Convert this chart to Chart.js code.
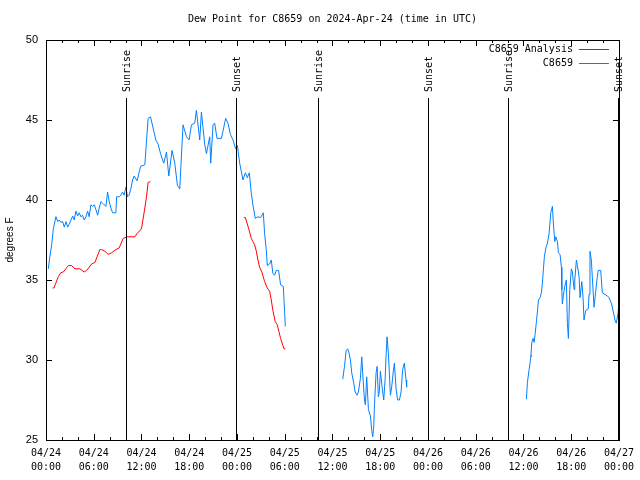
<!DOCTYPE html>
<html>
<head>
<meta charset="utf-8">
<script src="https://cdn.jsdelivr.net/npm/chart.js@4.4.1/dist/chart.umd.min.js"></script>
<style>
html,body{margin:0;padding:0;background:#fff;}
#caja{width:640px;height:480px;}
</style>
</head>
<body>
<div id="caja"><canvas id="grafico" width="640" height="480"></canvas></div>
<script>
// DATOS: horas desde 2024-04-24 00:00 UTC, null = hueco en el registro
const obsHours = [0.29,0.50,0.71,0.92,1.25,1.47,1.67,1.88,2.09,2.30,2.51,2.72,2.92,3.14,3.35,3.55,3.76,3.98,4.18,4.39,4.60,4.80,5.02,5.23,5.43,5.64,5.86,6.06,6.27,6.49,6.69,6.90,7.11,7.31,7.53,7.74,7.94,8.15,8.37,8.78,8.87,9.19,9.41,9.62,9.82,10.04,10.25,10.45,10.66,10.88,11.08,11.45,11.88,12.42,12.83,13.13,13.46,13.80,14.09,14.39,14.80,15.14,15.43,15.84,16.18,16.52,16.81,17.22,17.65,17.98,18.28,18.69,18.90,19.32,19.53,19.94,20.16,20.57,20.70,20.99,21.20,21.49,22.04,22.24,22.58,22.87,23.17,23.50,23.83,24.05,24.34,24.75,25.05,25.30,25.55,25.80,26.00,26.30,26.63,26.97,27.31,27.47,27.68,27.81,28.10,28.31,28.51,28.73,28.94,29.23,29.48,29.82,29.98,30.07,
  33,
  37.29,37.51,37.72,37.92,38.05,38.26,38.42,38.67,38.85,39.10,39.26,39.51,39.68,39.85,40.02,40.14,40.30,40.52,40.77,40.93,41.06,41.18,41.27,41.48,41.61,41.77,41.90,42.02,42.24,42.44,42.61,42.74,42.86,43.03,43.28,43.44,43.62,43.78,43.99,44.19,44.41,44.62,44.82,45.03,45.25,45.32,
  52,
  60.37,60.50,60.71,60.93,61.05,61.21,61.34,61.46,61.63,61.75,61.88,62.09,62.25,62.38,62.51,62.63,62.81,63.01,63.22,63.43,63.64,63.76,63.94,64.06,64.27,64.39,64.60,64.77,64.82,64.89,65.02,65.19,65.39,65.52,65.65,65.82,66.02,66.15,66.36,66.45,66.65,66.78,66.99,67.11,67.33,67.49,67.61,67.83,68.15,68.24,68.36,68.53,68.65,68.87,69.08,69.28,69.40,69.71,69.91,70.25,70.53,70.75,71.08,71.29,71.50,71.66,71.88,72.0];
const obsDewpt = [35.7,36.5,37.2,38.2,38.96,38.65,38.75,38.6,38.65,38.3,38.65,38.3,38.5,38.75,39.0,38.75,39.3,39.0,39.2,38.95,39.05,38.75,38.95,39.3,38.95,39.7,39.6,39.7,39.4,39.05,39.5,39.9,39.8,39.7,39.6,40.5,39.9,39.5,39.2,39.2,40.2,40.2,40.3,40.5,40.3,40.8,40.2,40.3,40.7,41.25,41.5,41.2,42.1,42.2,45.1,45.2,44.5,43.75,43.5,42.9,42.3,43.0,41.5,43.1,42.3,40.9,40.7,44.7,43.95,43.75,44.7,44.8,45.6,43.75,45.5,43.5,42.9,43.95,42.3,44.7,44.8,43.85,43.85,44.3,45.1,44.8,44.1,43.75,43.2,43.4,42.3,41.25,41.7,41.4,41.7,40.4,39.7,38.85,38.95,38.9,39.2,37.9,36.9,35.9,36.0,36.25,35.4,35.3,35.6,35.6,34.7,34.6,33.1,32.1,
  null,
  28.8,29.6,30.6,30.7,30.5,30.0,29.2,28.55,28.0,27.8,28.0,28.85,30.2,28.75,27.5,27.2,28.95,26.9,26.5,25.6,25.2,25.8,27.1,29.2,29.6,27.7,28.1,29.3,28.3,27.5,28.75,30.3,31.45,30.4,27.8,28.3,29.2,29.8,28.2,27.5,27.5,28.0,29.4,29.8,28.75,28.3,
  null,
  27.55,28.6,29.4,30.2,31.1,31.35,31.1,31.6,32.4,33.0,33.75,33.9,34.2,34.8,35.7,36.45,37.0,37.3,37.9,39.2,39.6,38.5,37.4,37.7,37.4,36.7,36.6,35.8,34.4,33.5,34.05,34.6,35.0,32.3,31.35,34.4,35.7,35.5,34.4,35.0,36.25,35.9,35.2,33.9,34.9,33.9,32.5,33.1,33.2,34.1,36.8,36.25,35.2,33.3,34.3,35.2,35.6,35.6,34.2,34.1,34.0,33.9,33.5,33.0,32.5,32.3,32.9,33.5];

const anaHours = [0.84,1.00,1.54,1.84,2.17,2.80,3.22,3.64,4.26,4.80,5.11,5.73,6.15,6.77,6.99,7.40,7.81,8.24,8.78,9.19,9.70,10.20,11.16,11.45,12.00,12.42,12.63,12.83,13.13,
  18,
  24.87,25.05,25.30,25.59,25.80,26.00,26.22,26.43,26.63,26.84,27.13,27.47,27.81,28.10,28.31,28.51,28.81,29.06,29.26,29.48,29.77,29.90,30.07,
  45,
  60.93,61.05];
const anaDewpt = [34.5,34.5,35.2,35.45,35.5,35.9,35.9,35.7,35.7,35.5,35.6,36.0,36.1,36.9,36.9,36.8,36.6,36.7,36.9,37.0,37.6,37.7,37.7,37.9,38.2,39.5,40.2,41.1,41.15,
  null,
  38.9,38.9,38.5,38.0,37.6,37.4,37.2,36.8,36.25,35.8,35.5,34.9,34.5,34.3,33.75,33.1,32.4,32.2,31.8,31.35,30.9,30.7,30.7,
  null,
  30.2,30.3];

const sunHours = [10.1, 23.9, 34.15, 47.95, 58.1, 71.9];
const sunLabels = ['Sunrise','Sunset','Sunrise','Sunset','Sunrise','Sunset'];

const xTickHours = [0,6,12,18,24,30,36,42,48,54,60,66,72];
const xTickDates = ['04/24','04/24','04/24','04/24','04/25','04/25','04/25','04/25','04/26','04/26','04/26','04/26','04/27'];
const xTickTimes = ['00:00','06:00','12:00','18:00','00:00','06:00','12:00','18:00','00:00','06:00','12:00','18:00','00:00'];
const yTicks = [25,30,35,40,45,50];

const titulo = 'Dew Point for C8659 on 2024-Apr-24 (time in UTC)';
const nombres = ['C8659 Analysis','C8659'];
const colores = ['#ff0000','#0080ff'];

const MONO = '"DejaVu Sans Mono", monospace';

// marco, ticks hacia adentro, salida/puesta del sol, titulo y leyenda
const marcoPlugin = {
    id: 'marco',
    afterDraw(chart){
        const ctx = chart.ctx, a = chart.chartArea;
        const sx = chart.scales.x, sy = chart.scales.y;
        ctx.save();
        ctx.strokeStyle = '#000';
        ctx.lineWidth = 1;

        ctx.beginPath();
        for(let h = 0; h <= 72; h += 2){
            const px = Math.round(sx.getPixelForValue(h)) + 0.5;
            const len = h % 6 === 0 ? 6 : 3;
            ctx.moveTo(px, a.bottom); ctx.lineTo(px, a.bottom - len);
            ctx.moveTo(px, a.top); ctx.lineTo(px, a.top + len);
        }
        yTicks.forEach(v => {
            const py = Math.round(sy.getPixelForValue(v)) + 0.5;
            ctx.moveTo(a.left, py); ctx.lineTo(a.left + 6, py);
            ctx.moveTo(a.right, py); ctx.lineTo(a.right - 6, py);
        });
        ctx.stroke();

        ctx.font = '10px ' + MONO;
        ctx.fillStyle = '#000';
        sunHours.forEach((h, i) => {
            const px = Math.round(sx.getPixelForValue(h)) + 0.5;
            ctx.beginPath();
            ctx.moveTo(px, a.top + 58);
            ctx.lineTo(px, a.bottom);
            ctx.stroke();
            ctx.save();
            ctx.translate(px + 1, a.top + 52);
            ctx.rotate(-Math.PI / 2);
            ctx.textAlign = 'left';
            ctx.textBaseline = 'middle';
            ctx.fillText(sunLabels[i], 0, 0);
            ctx.restore();
        });

        ctx.strokeRect(Math.round(a.left) + 0.5, Math.round(a.top) + 0.5,
            Math.round(a.right - a.left), Math.round(a.bottom - a.top));

        // titulo
        ctx.textAlign = 'center';
        ctx.textBaseline = 'middle';
        ctx.fillText(titulo, (a.left + a.right) / 2, 19);

        // leyenda
        ctx.textAlign = 'right';
        nombres.forEach((n, i) => {
            const yy = a.top + 9 + i * 14;
            ctx.fillStyle = '#000';
            ctx.fillText(n, a.right - 46, yy);
            ctx.fillStyle = colores[i];
            ctx.fillRect(a.right - 40, Math.round(yy), 30, 1);
        });
        ctx.restore();
    }
};

const canvas = document.querySelector('#grafico');
const grafico = new Chart(canvas, {
    type: 'line',
    data: {
        datasets: [
            {
                label: nombres[0],
                data: anaHours.map((h, i) => ({x: h, y: anaDewpt[i]})),
                borderColor: colores[0],
                borderWidth: 1,
                pointRadius: 0,
                spanGaps: false,
                tension: 0
            },
            {
                label: nombres[1],
                data: obsHours.map((h, i) => ({x: h, y: obsDewpt[i]})),
                borderColor: colores[1],
                borderWidth: 1,
                pointRadius: 0,
                spanGaps: false,
                tension: 0
            }
        ]
    },
    options: {
        responsive: false,
        animation: false,
        layout: { padding: { top: 40, right: 20, left: 0, bottom: 0 } },
        plugins: {
            legend: { display: false },
            title: { display: false },
            tooltip: { enabled: false }
        },
        scales: {
            x: {
                type: 'linear',
                min: 0,
                max: 72,
                afterBuildTicks: s => { s.ticks = xTickHours.map(v => ({value: v})); },
                afterFit: s => { s.height = 40; },
                grid: { display: false, drawTicks: false },
                border: { display: false },
                ticks: {
                    autoSkip: false,
                    maxRotation: 0,
                    padding: 6,
                    color: '#000',
                    font: { family: MONO, size: 10, lineHeight: 1.4 },
                    callback: (v, i) => [xTickDates[i], xTickTimes[i]]
                }
            },
            y: {
                min: 25,
                max: 50,
                afterBuildTicks: s => { s.ticks = yTicks.map(v => ({value: v})); },
                afterFit: s => { s.width = 46; },
                grid: { display: false, drawTicks: false },
                border: { display: false },
                ticks: {
                    padding: 8,
                    color: '#000',
                    font: { family: '"Liberation Sans", Arial, sans-serif', size: 11 }
                },
                title: {
                    display: true,
                    text: 'degrees F',
                    color: '#000',
                    padding: { top: 4, bottom: 0 },
                    font: { family: '"Liberation Sans", Arial, sans-serif', size: 10 }
                }
            }
        }
    },
    plugins: [marcoPlugin]
});
</script>
</body>
</html>
